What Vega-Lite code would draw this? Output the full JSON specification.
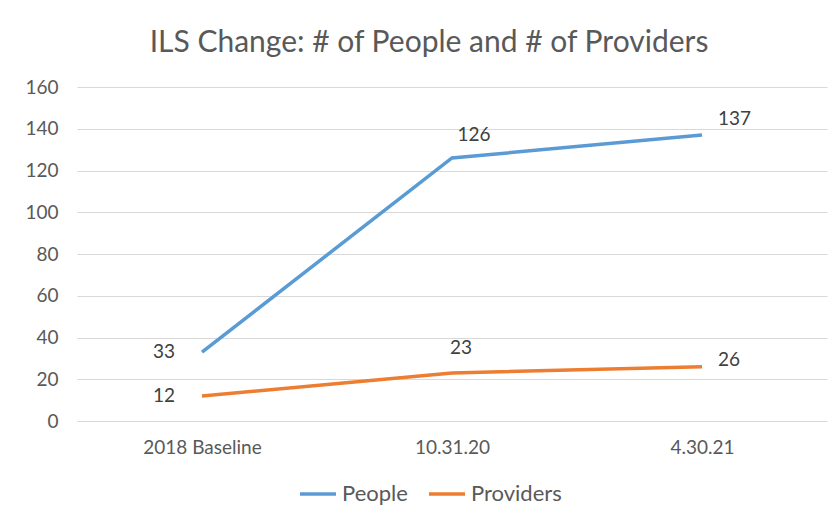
{
  "$schema": "https://vega.github.io/schema/vega-lite/v6.json",
  "autosize": "none",
  "width": 750,
  "height": 334,
  "padding": {"left": 77, "top": 87, "right": 13, "bottom": 99},
  "background": "white",
  "title": {
    "text": "ILS Change: # of People and # of Providers",
    "anchor": "middle",
    "frame": "group",
    "dx": -23,
    "offset": 20,
    "fontSize": 30,
    "font": "Lato",
    "fontWeight": "normal",
    "color": "#595959"
  },
  "data": {
    "values": [
      {"date": "2018 Baseline", "series": "People", "value": 33},
      {"date": "10.31.20", "series": "People", "value": 126},
      {"date": "4.30.21", "series": "People", "value": 137},
      {"date": "2018 Baseline", "series": "Providers", "value": 12},
      {"date": "10.31.20", "series": "Providers", "value": 23},
      {"date": "4.30.21", "series": "Providers", "value": 26}
    ]
  },
  "encoding": {
    "x": {
      "field": "date",
      "type": "ordinal",
      "sort": null,
      "scale": {"type": "point", "padding": 0.5},
      "axis": {
        "title": null,
        "labelAngle": 0,
        "domain": false,
        "ticks": false,
        "grid": false,
        "labelPadding": 17,
        "labelFontSize": 19,
        "labelFont": "Lato",
        "labelColor": "#595959"
      }
    },
    "y": {
      "field": "value",
      "type": "quantitative",
      "scale": {"domain": [0, 160]},
      "axis": {
        "title": null,
        "values": [0, 20, 40, 60, 80, 100, 120, 140, 160],
        "domain": false,
        "ticks": false,
        "grid": true,
        "gridColor": "#d9d9d9",
        "gridWidth": 1,
        "labelPadding": 19,
        "labelFontSize": 19,
        "labelFont": "Lato",
        "labelColor": "#595959"
      }
    }
  },
  "layer": [
    {
      "mark": {"type": "line", "strokeWidth": 3.5},
      "encoding": {
        "color": {
          "field": "series",
          "type": "nominal",
          "scale": {"domain": ["People", "Providers"], "range": ["#5B9BD5", "#ED7D31"]},
          "legend": {
            "title": null,
            "orient": "none",
            "direction": "horizontal",
            "legendX": 221,
            "legendY": 387,
            "symbolType": "stroke",
            "symbolStrokeWidth": 3.5,
            "symbolSize": 1300,
            "labelFontSize": 22,
            "labelFont": "Lato",
            "labelColor": "#595959",
            "columnPadding": 13,
            "labelOffset": 4
          }
        }
      }
    },
    {
      "transform": [{"filter": "datum.date == '2018 Baseline'"}],
      "mark": {"type": "text", "align": "right", "baseline": "middle", "dx": -27, "fontSize": 19, "font": "Lato", "color": "#404040"},
      "encoding": {"text": {"field": "value"}}
    },
    {
      "transform": [{"filter": "datum.date == '10.31.20' && datum.series == 'People'"}],
      "mark": {"type": "text", "align": "center", "baseline": "middle", "dx": 22, "dy": -23, "fontSize": 19, "font": "Lato", "color": "#404040"},
      "encoding": {"text": {"field": "value"}}
    },
    {
      "transform": [{"filter": "datum.date == '10.31.20' && datum.series == 'Providers'"}],
      "mark": {"type": "text", "align": "center", "baseline": "middle", "dx": 9, "dy": -25, "fontSize": 19, "font": "Lato", "color": "#404040"},
      "encoding": {"text": {"field": "value"}}
    },
    {
      "transform": [{"filter": "datum.date == '4.30.21' && datum.series == 'People'"}],
      "mark": {"type": "text", "align": "left", "baseline": "middle", "dx": 16, "dy": -16, "fontSize": 19, "font": "Lato", "color": "#404040"},
      "encoding": {"text": {"field": "value"}}
    },
    {
      "transform": [{"filter": "datum.date == '4.30.21' && datum.series == 'Providers'"}],
      "mark": {"type": "text", "align": "left", "baseline": "middle", "dx": 16, "dy": -7, "fontSize": 19, "font": "Lato", "color": "#404040"},
      "encoding": {"text": {"field": "value"}}
    }
  ],
  "config": {"view": {"stroke": null}}
}
